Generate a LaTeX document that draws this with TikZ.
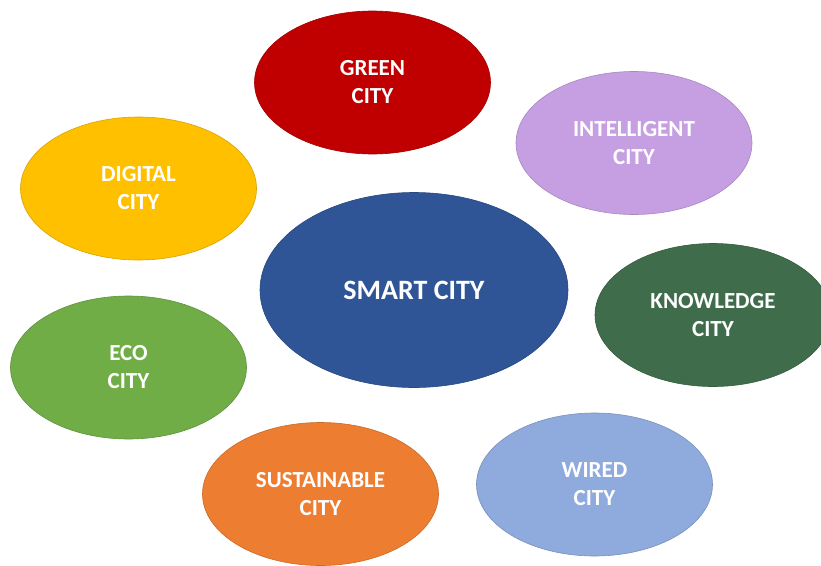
\documentclass[tikz,border=0pt]{standalone}
\usepackage{fontspec}
\setmainfont{Carlito}
\usetikzlibrary{shapes.geometric}

\definecolor{greenc}{HTML}{C00000}
\definecolor{intelc}{HTML}{C59FE2}
\definecolor{digitc}{HTML}{FFC000}
\definecolor{smartc}{HTML}{2F5597}
\definecolor{knowc}{HTML}{3F6C4A}
\definecolor{ecoc}{HTML}{70AD47}
\definecolor{sustc}{HTML}{ED7D31}
\definecolor{wiredc}{HTML}{8FAADC}

\tikzset{
  city/.style={ellipse, fill=#1, draw=#1!85!black, line width=0.6pt,
    minimum width=236pt, minimum height=143pt, inner sep=0pt,
    text=white, align=center, font=\bfseries\fontsize{23}{28}\selectfont},
}

\begin{document}
\begin{tikzpicture}[x=1pt, y=-1pt]
    \useasboundingbox (0,0) rectangle (821,565);
    \clip (0,0) rectangle (821,565);

    % centre
    \node[city=smartc, minimum width=308pt, minimum height=195pt,
          font=\bfseries\fontsize{28}{32}\selectfont] (smart) at (414,290) {SMART CITY};

    % outer ring
    \node[city=greenc]  (green) at (372.5,82.5) {GREEN\\CITY};
    \node[city=intelc]  (intel) at (634,143)    {INTELLIGENT\\CITY};
    \node[city=digitc]  (digit) at (138.5,188.5) {DIGITAL\\CITY};
    \node[city=knowc]   (know)  at (713,315)    {KNOWLEDGE\\CITY};
    \node[city=ecoc]    (eco)   at (128.5,367.5) {ECO\\CITY};
    \node[city=sustc]   (sust)  at (320.5,494)  {SUSTAINABLE\\CITY};
    \node[city=wiredc]  (wired) at (594.5,484.5) {WIRED\\CITY};
\end{tikzpicture}
\end{document}
